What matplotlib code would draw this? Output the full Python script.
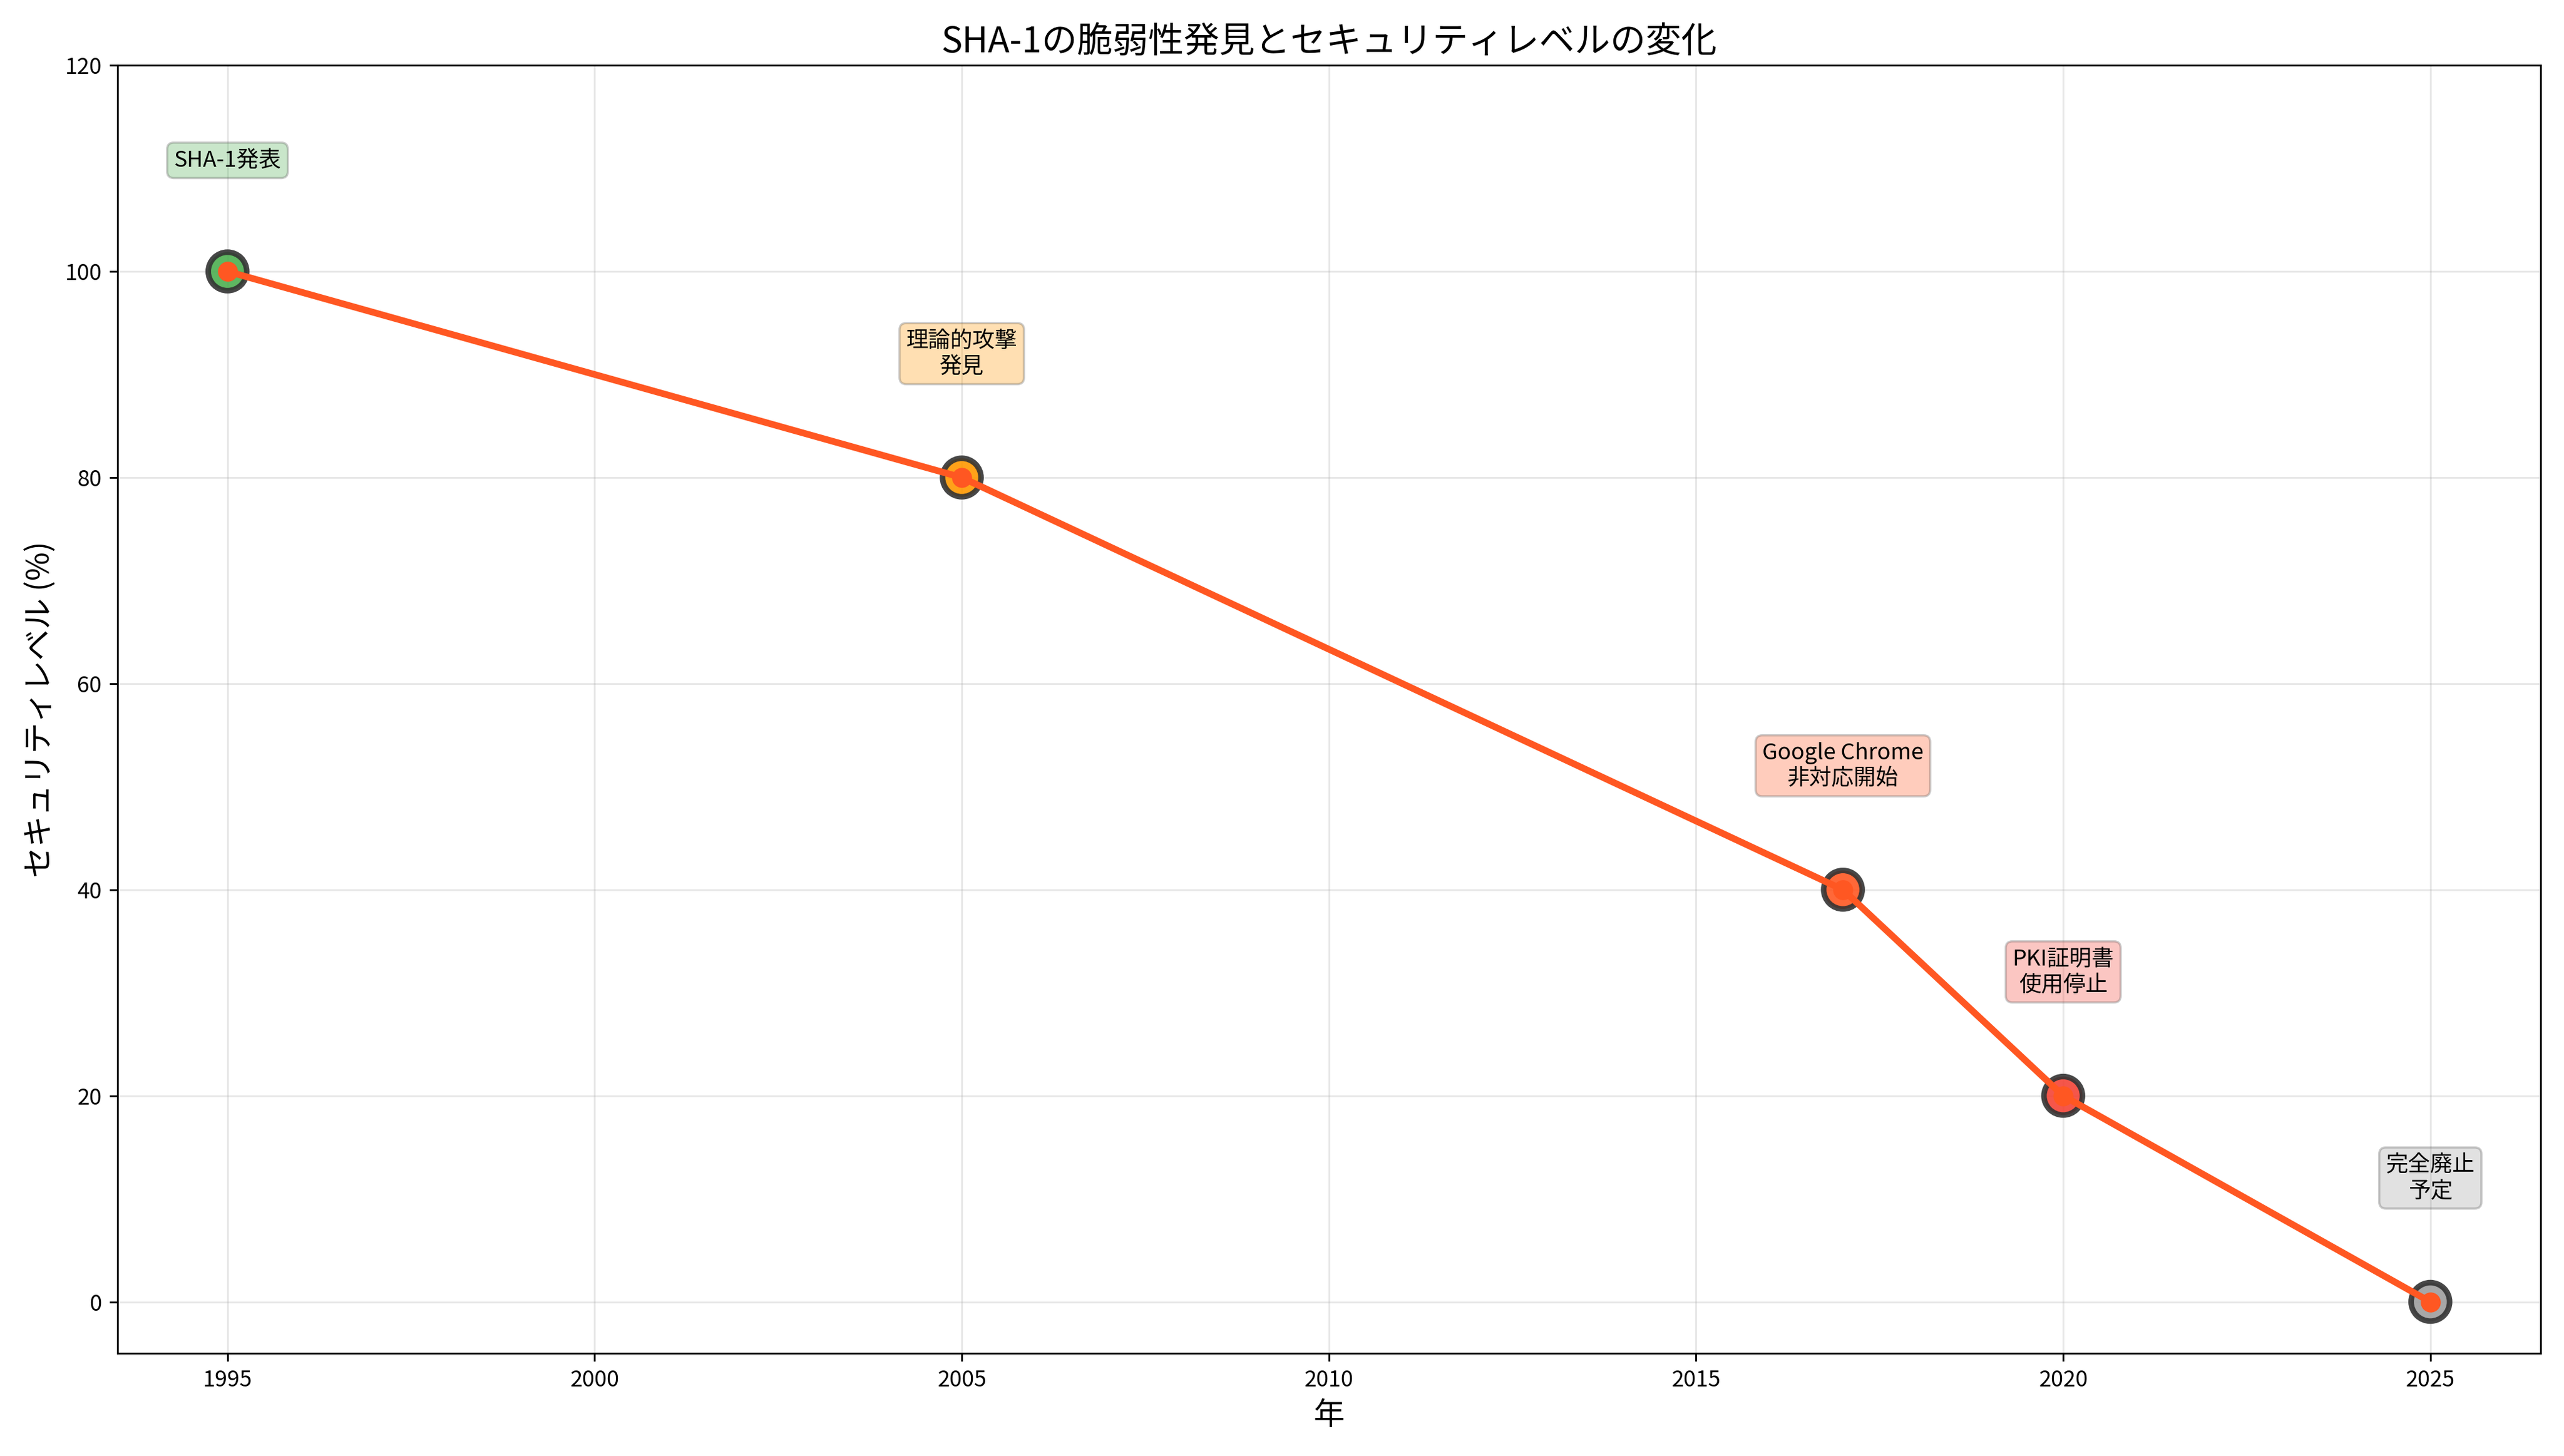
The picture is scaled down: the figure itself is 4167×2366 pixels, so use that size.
import matplotlib.pyplot as plt

plt.rcParams['font.family'] = ['Noto Sans CJK JP', 'DejaVu Sans']

years = [1995, 2005, 2017, 2020, 2025]
security = [100, 80, 40, 20, 0]
events = ['SHA-1発表', '理論的攻撃\n発見', 'Google Chrome\n非対応開始', 'PKI証明書\n使用停止', '完全廃止\n予定']
colors = ['#4CAF50', '#FF9800', '#FF5722', '#F44336', '#9E9E9E']

fig, ax = plt.subplots(figsize=(16.03, 9.1), dpi=260)

ax.scatter(years, security, s=300, c=colors, edgecolors='#333333', linewidths=2.5, zorder=3, alpha=0.9)
ax.plot(years, security, color='#FF5722', linewidth=3, marker='o', markersize=8, zorder=4)

for x, y, label, c in zip(years, security, events, colors):
    ax.annotate(label, (x, y), xytext=(0, 45), textcoords='offset points',
                ha='center', va='bottom', fontsize=10,
                bbox=dict(boxstyle='round,pad=0.3', facecolor=c, alpha=0.3, edgecolor='#555555'))

ax.set_title('SHA-1の脆弱性発見とセキュリティレベルの変化', fontsize=16)
ax.set_xlabel('年', fontsize=14)
ax.set_ylabel('セキュリティレベル (%)', fontsize=14)
ax.set_ylim(-5, 120)
ax.grid(True, alpha=0.3)

plt.tight_layout()
plt.savefig('out.png')
